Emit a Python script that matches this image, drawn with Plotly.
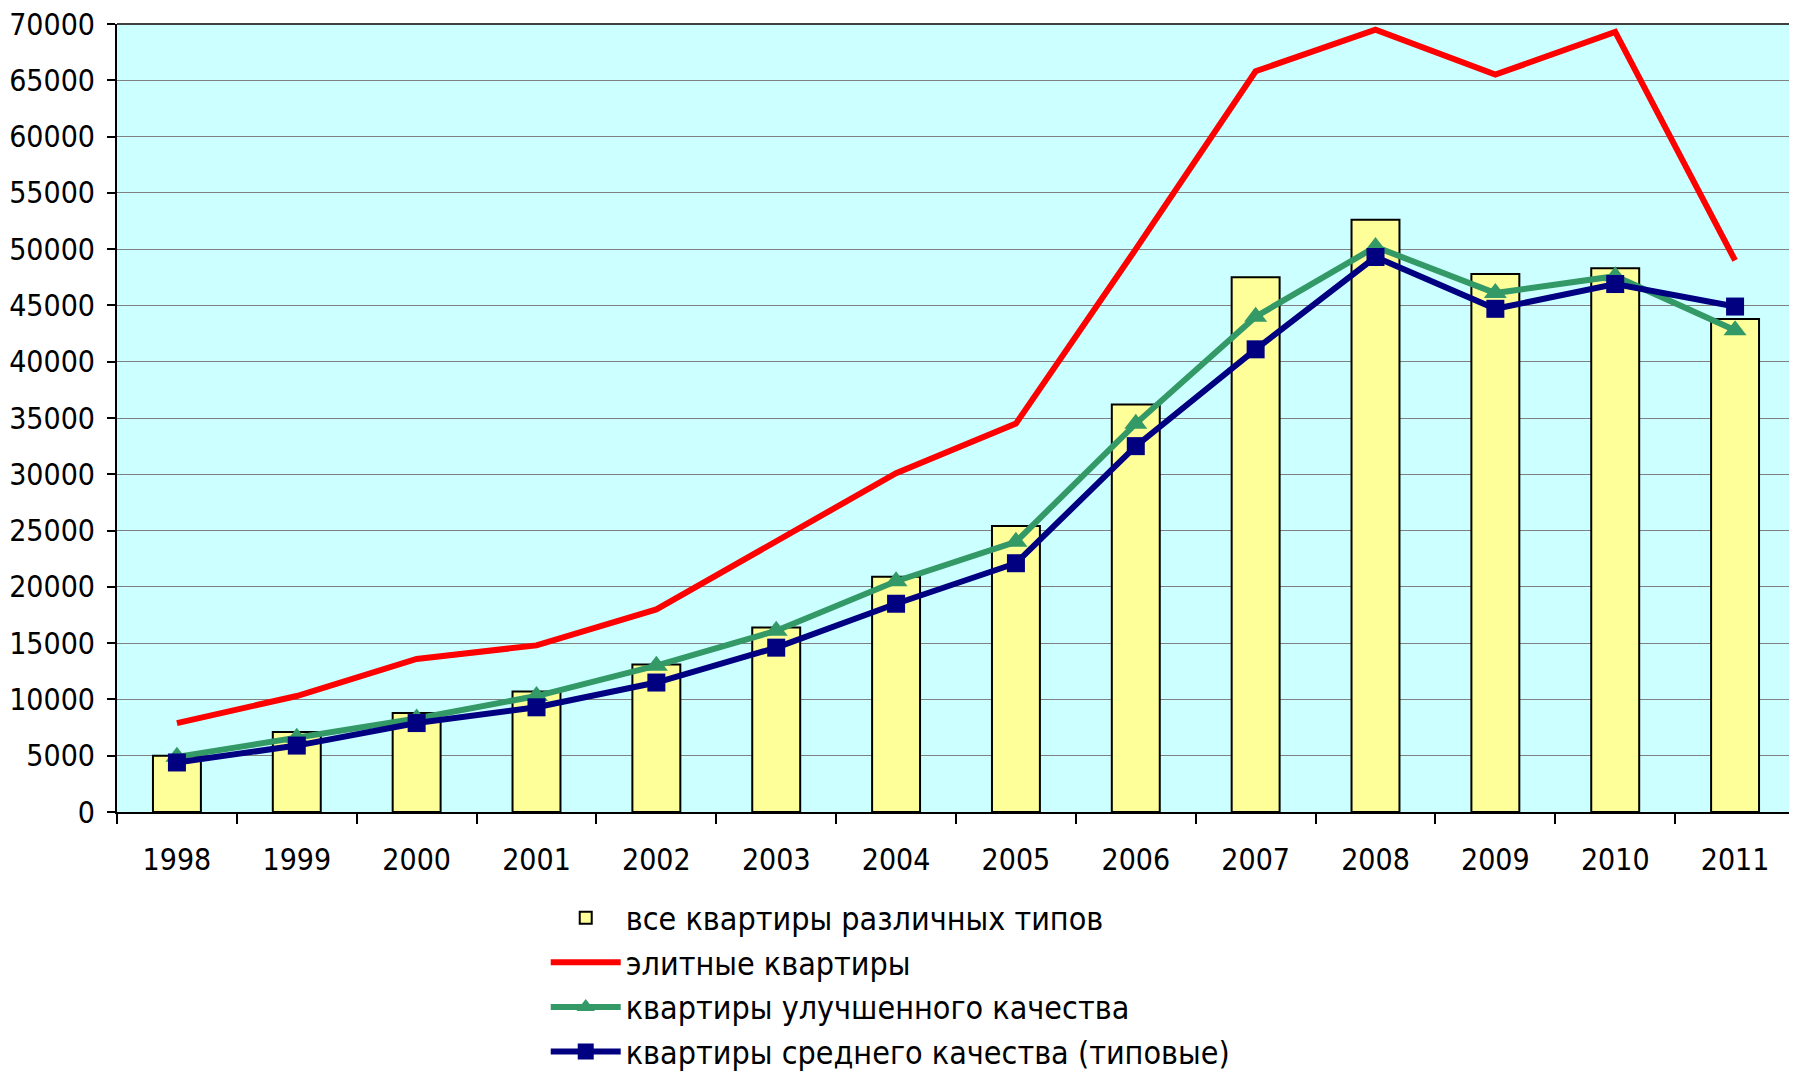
import plotly.graph_objects as go

years = ["1998", "1999", "2000", "2001", "2002", "2003", "2004",
         "2005", "2006", "2007", "2008", "2009", "2010", "2011"]
all_types = [5000, 7100, 8800, 10700, 13100, 16400, 20900,
             25400, 36200, 47500, 52600, 47800, 48300, 43800]
elite = [7900, 10300, 13600, 14800, 18000, 24000, 30100,
         34500, 50000, 65800, 69500, 65500, 69300, 49000]
improved = [4900, 6600, 8300, 10300, 13000, 16100, 20500,
            24000, 34500, 44000, 50200, 46100, 47600, 42800]
typical = [4400, 5900, 7900, 9300, 11500, 14600, 18500,
           22100, 32500, 41100, 49300, 44700, 46900, 44900]

names = ["все квартиры различных типов", "элитные квартиры",
         "квартиры улучшенного качества", "квартиры среднего качества (типовые)"]

FONT = "Liberation Sans Narrow, Arial Narrow, DejaVu Sans Condensed, Liberation Sans, sans-serif"

fig = go.Figure()
fig.add_trace(go.Bar(x=years, y=all_types, name=names[0],
                     marker=dict(color="#FFFF99", line=dict(color="black", width=2))))
fig.add_trace(go.Scatter(x=years, y=elite, name=names[1], mode="lines",
                         line=dict(color="#FF0000", width=6)))
fig.add_trace(go.Scatter(x=years, y=improved, name=names[2], mode="lines+markers",
                         line=dict(color="#339966", width=6),
                         marker=dict(symbol="triangle-up", size=20, color="#339966")))
fig.add_trace(go.Scatter(x=years, y=typical, name=names[3], mode="lines+markers",
                         line=dict(color="#000080", width=6),
                         marker=dict(symbol="square", size=18, color="#000080")))

fig.update_layout(
    width=1789, height=1063,
    margin=dict(l=109, r=2, t=16, b=259, autoexpand=False),
    paper_bgcolor="white", plot_bgcolor="#CCFFFF",
    font=dict(family=FONT, size=30, color="black"),
    bargap=0.6, showlegend=True,
    legend=dict(x=0.2555, y=-0.0995, xanchor="left", yanchor="top",
                font=dict(size=32), bgcolor="rgba(0,0,0,0)",
                tracegroupgap=0, itemwidth=70),
)
fig.update_xaxes(type="category", tickson="boundaries", ticks="outside", ticklen=10,
                 tickwidth=2, tickcolor="black", showline=True, linecolor="black",
                 linewidth=2, showgrid=False, ticklabelstandoff=20, automargin=False,
                 tickfont=dict(size=30), range=[-0.5, 13.5])
fig.update_yaxes(range=[0, 70000], dtick=5000, ticks="outside", ticklen=8,
                 tickwidth=2, tickcolor="black", showline=True, linecolor="black",
                 linewidth=2, gridcolor="#808080", gridwidth=1, zeroline=False,
                 automargin=False, tickfont=dict(size=30), tickformat="d",
                 ticklabeloverflow="allow", ticklabelstandoff=6)
fig.add_shape(type="line", xref="paper", yref="paper", x0=0, x1=1, y0=1, y1=1,
              line=dict(color="#404040", width=2))

fig.write_html("out.html")
